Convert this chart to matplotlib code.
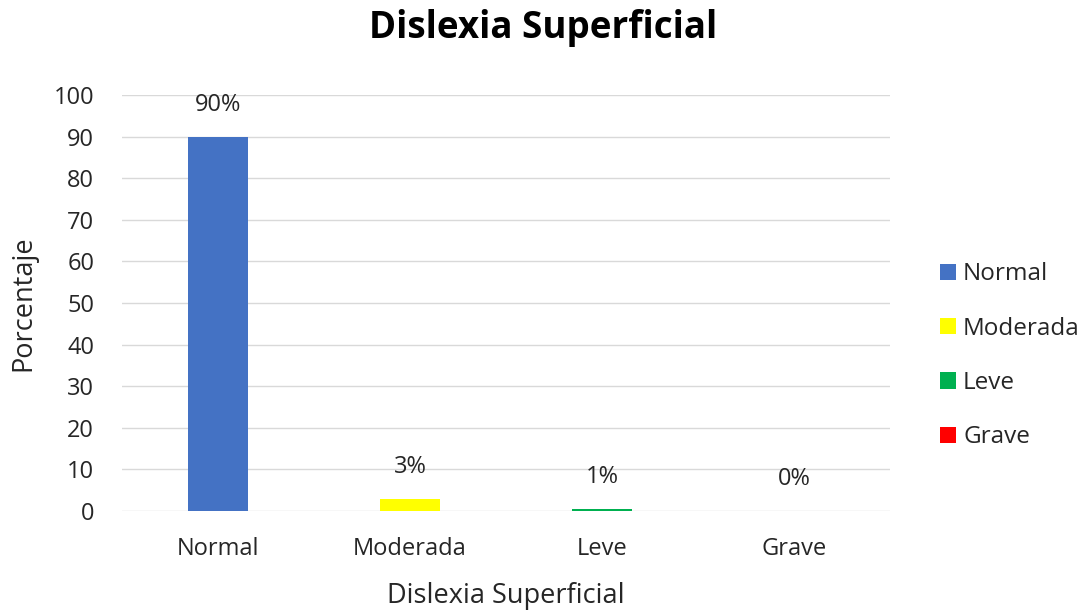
import matplotlib.pyplot as plt

plt.rcParams['font.family'] = ['Open Sans', 'DejaVu Sans']

# data
categories = ["Normal", "Moderada", "Leve", "Grave"]
values = [90, 3, 0.6, 0]
labels = ["90%", "3%", "1%", "0%"]
colors = ["#4472C4", "#FFFF00", "#00B050", "#FF0000"]
yticks = [0, 10, 20, 30, 40, 50, 60, 70, 80, 90, 100]

fig = plt.figure(figsize=(10.87, 6.10), dpi=100)
ax = fig.add_axes([0.1122, 0.1623, 0.7066, 0.682])

x = range(len(categories))
bars = ax.bar(x, values, width=0.31, color=colors, zorder=3)

for b, lab in zip(bars, labels):
    ax.annotate(lab, (b.get_x() + b.get_width() / 2, b.get_height()),
                xytext=(0, 23), textcoords="offset points",
                ha="center", va="center", fontsize=17, color="#262626")

ax.set_xlim(-0.5, 3.5)
ax.set_ylim(0, 100)
ax.set_yticks(yticks)
ax.set_xticks(list(x))
ax.set_xticklabels(categories)
ax.tick_params(axis="both", length=0, labelsize=17, labelcolor="#262626")
ax.tick_params(axis="x", pad=19)
ax.tick_params(axis="y", pad=20)

ax.grid(axis="y", color="#D9D9D9", linewidth=1, zorder=0)
for s in ax.spines.values():
    s.set_visible(False)

ax.set_xlabel("Dislexia Superficial", fontsize=19.5, color="#262626", labelpad=15)
ax.set_ylabel("Porcentaje", fontsize=19.5, color="#262626", labelpad=12)
fig.suptitle("Dislexia Superficial", fontsize=26.5, fontweight="bold",
             y=0.954, va="center", color="black")

leg = ax.legend(bars, categories, loc="center left", bbox_to_anchor=(1.065, 0.373),
                frameon=False, fontsize=17.5, handlelength=0.65, handleheight=0.65,
                handletextpad=0.3, labelspacing=1.25, borderaxespad=0, borderpad=0)
for t in leg.get_texts():
    t.set_color("#262626")

fig.savefig("out.png", dpi=100)
